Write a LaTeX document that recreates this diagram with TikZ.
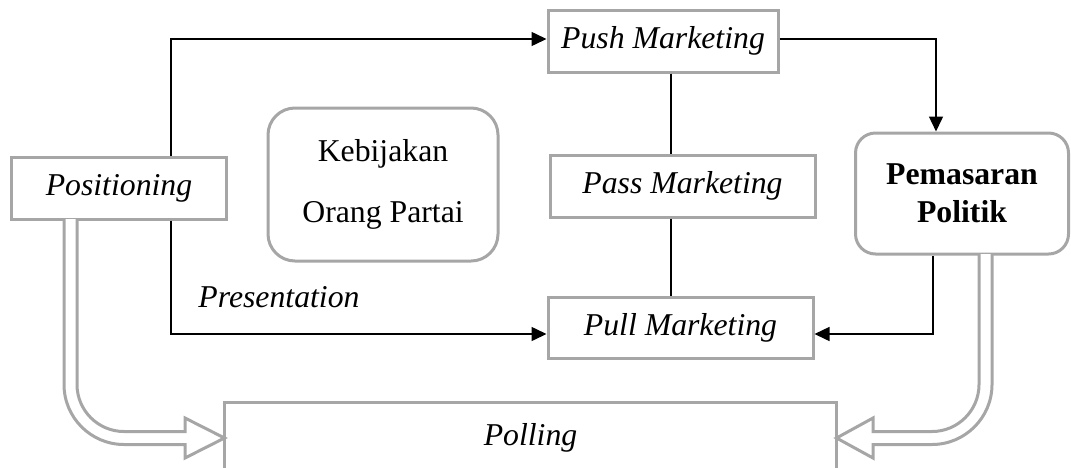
\documentclass[tikz,border=0pt]{standalone}
\usepackage{fontspec}
\setmainfont{Liberation Serif}
\usetikzlibrary{arrows.meta,calc}
\definecolor{boxgray}{RGB}{166,166,166}
\tikzset{
  box/.style={draw=boxgray, line width=1.2pt, inner sep=0pt, align=center,
    font=\fontsize{12.7}{15.2}\selectfont},
  rbox/.style={box, rounded corners=#1},
  lbl/.style={inner sep=0pt, font=\fontsize{12.7}{15.2}\selectfont\itshape},
  conn/.style={draw=black, line width=0.6pt},
  arr/.style={conn, -{Triangle[length=6pt,width=5.6pt]}},
  dbl/.style={draw=boxgray, line width=1.2pt, line join=miter, fill=white},
}
\begin{document}
\begin{tikzpicture}[x=0.4pt, y=-0.4pt]
\clip (0,0) rectangle (1071,467);
\useasboundingbox (0,0) rectangle (1071,467);
% nodes
\node[box, minimum width=85.6pt, minimum height=24.8pt] (pos) at (119,188) {\itshape Positioning};
\node[box, minimum width=92pt, minimum height=24.8pt] (push) at (663,41) {\itshape Push Marketing};
\node[box, minimum width=106pt, minimum height=24.8pt] (pass) at (682.5,186) {\itshape Pass Marketing};
\node[box, minimum width=106pt, minimum height=24.4pt] (pull) at (680.5,327.5) {\itshape Pull Marketing};
\node[rbox=10.8pt, minimum width=92pt, minimum height=61.2pt,
  font=\fontsize{12.7}{24.4}\selectfont] (keb) at (383,184.5) {Kebijakan\\[0pt]Orang Partai};
\node[rbox=8pt, minimum width=85.2pt, minimum height=48.4pt,
  font=\fontsize{12.7}{15.2}\selectfont\bfseries] (pem) at (962,193.5) {Pemasaran\\Politik};
\node[inner sep=0pt, minimum width=244.4pt, minimum height=28pt,
  font=\fontsize{12.7}{15.2}\selectfont\itshape] (poll) at (530.5,438) {Polling};
\draw[draw=boxgray, line width=1.2pt] (poll.south west) -- (poll.north west) -- (poll.north east) -- (poll.south east);
\node[lbl] (pres) at (279,297) {Presentation};
% black connectors
\coordinate (px) at (171,0);
\coordinate (vx) at (671,0);
\draw[arr] (px |- pos.north) |- ([yshift=0.8pt]push.west);
\draw[arr] (px |- pos.south) |- ([yshift=-2.6pt]pull.west);
\draw[arr] ([yshift=0.8pt]push.east) -| ([xshift=-10.4pt]pem.north);
\draw[arr] ([xshift=-11.6pt]pem.south) |- ([yshift=-2.6pt]pull.east);
\draw[conn] (vx |- push.south) -- (vx |- pass.north);
\draw[conn] (vx |- pass.south) -- (vx |- pull.north);
% hollow arrows to Polling
\draw[dbl] (64,219) -- (64,384.5) .. controls (64,417.6) and (90.9,444.5) .. (124,444.5)
  -- (185,444.5) -- (185,458) -- (poll.west) -- (185,418) -- (185,431.5) -- (124,431.5)
  .. controls (98.1,431.5) and (77,410.4) .. (77,384.5) -- (77,219);
\draw[dbl] (992,254) -- (992,384.5) .. controls (992,417.6) and (965.1,444.5) .. (932,444.5)
  -- (873,444.5) -- (873,458) -- (poll.east) -- (873,418) -- (873,431.5) -- (932,431.5)
  .. controls (957.9,431.5) and (979,410.4) .. (979,384.5) -- (979,254);
\end{tikzpicture}
\end{document}
